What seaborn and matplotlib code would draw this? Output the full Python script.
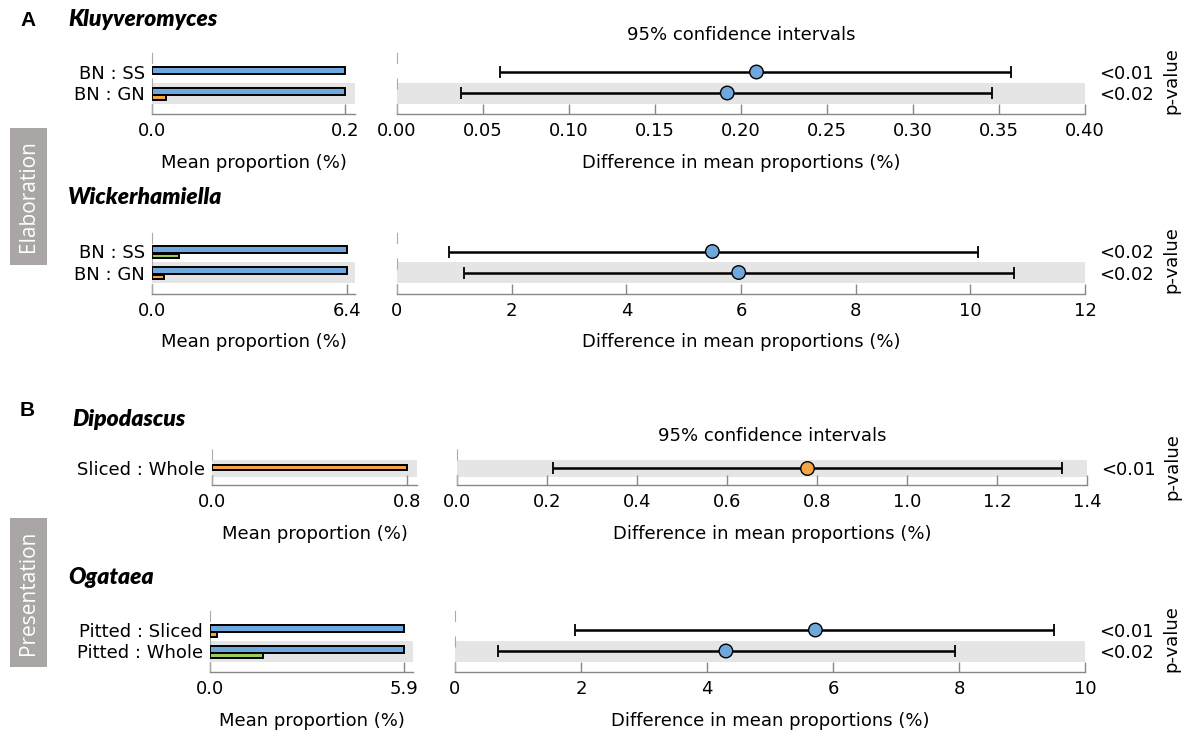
import numpy as np
import pandas as pd
import matplotlib
matplotlib.use("Agg")
import matplotlib.pyplot as plt
from matplotlib.patches import Rectangle
import seaborn as sns

sns.set_theme(style="white")
plt.rcParams["font.family"] = "sans-serif"
plt.rcParams["font.sans-serif"] = ["DejaVu Sans"]
plt.rcParams["mathtext.fontset"] = "dejavusans"
plt.rcParams["text.color"] = "black"
plt.rcParams["axes.labelcolor"] = "black"

FS = 13

BLUE = "#6FA8DC"
ORANGE = "#F6A545"
GREEN = "#9BCB5A"
BAND = "#E5E5E5"
SPINE = "#888888"
COLORS = {"BN": BLUE, "Pitted": BLUE, "SS": GREEN, "GN": ORANGE,
          "Sliced": ORANGE, "Whole": GREEN}

# ---------------- data ----------------
kluy_rows = ["BN : SS", "BN : GN"]
kluy_g1 = ["BN", "BN"]
kluy_g2 = ["SS", "GN"]
kluy_mean1 = [0.200, 0.200]
kluy_mean2 = [0.0, 0.0145]
kluy_diff = [0.209, 0.192]
kluy_lo = [0.060, 0.037]
kluy_hi = [0.357, 0.346]
kluy_p = ["<0.01", "<0.02"]

wick_rows = ["BN : SS", "BN : GN"]
wick_g1 = ["BN", "BN"]
wick_g2 = ["SS", "GN"]
wick_mean1 = [6.4, 6.4]
wick_mean2 = [0.89, 0.41]
wick_diff = [5.50, 5.96]
wick_lo = [0.90, 1.16]
wick_hi = [10.13, 10.76]
wick_p = ["<0.02", "<0.02"]

dipo_rows = ["Sliced : Whole"]
dipo_g1 = ["Sliced"]
dipo_g2 = ["Whole"]
dipo_mean1 = [0.80]
dipo_mean2 = [0.0]
dipo_diff = [0.778]
dipo_lo = [0.213]
dipo_hi = [1.345]
dipo_p = ["<0.01"]

ogat_rows = ["Pitted : Sliced", "Pitted : Whole"]
ogat_g1 = ["Pitted", "Pitted"]
ogat_g2 = ["Sliced", "Whole"]
ogat_mean1 = [5.9, 5.9]
ogat_mean2 = [0.22, 1.62]
ogat_diff = [5.72, 4.30]
ogat_lo = [1.91, 0.68]
ogat_hi = [9.51, 7.93]
ogat_p = ["<0.01", "<0.02"]

# ---------------- figure ----------------
W, H = 1189, 730
fig = plt.figure(figsize=(W / 100, H / 100), dpi=100)


def rect(x0, x1, top, bottom):
    return [x0 / W, 1 - bottom / H, (x1 - x0) / W, (bottom - top) / H]


def style_axis(ax, ylim):
    ax.set_ylim(*ylim)
    for s in ["top", "right"]:
        ax.spines[s].set_visible(False)
    ax.spines["bottom"].set_color(SPINE)
    ax.spines["bottom"].set_linewidth(1.0)
    ax.spines["left"].set_color("#AAAAAA")
    ax.spines["left"].set_linewidth(0.8)
    ax.spines["left"].set_linestyle((0, (9, 14)))
    ax.tick_params(axis="x", direction="in", length=7, width=1, color=SPINE,
                   labelsize=FS, pad=6, labelcolor="black", bottom=True)
    ax.set_facecolor("none")


def panel(rows, g1, g2, m1, m2, diff, lo, hi, pvals,
          bar_x, ci_x, row0, unit, bar_max, bar_ticks, bar_labels,
          ci_lim, ci_ticks, ci_labels, band_rows, b1, b2, title=False):
    n = len(rows)
    top = row0 - 1.2 * unit
    bottom = row0 + (n - 1) * unit + 1.0 * unit
    ylim = ((bottom - row0) / unit, (top - row0) / unit)

    # ---- mean proportion bars ----
    axb = fig.add_axes(rect(bar_x[0], bar_x[1], top, bottom))
    df = pd.DataFrame({"row": list(rows) * 2,
                       "value": list(m1) + list(m2),
                       "role": ["first"] * n + ["second"] * n})
    sns.barplot(data=df, x="value", y="row", hue="role", order=rows,
                hue_order=["first", "second"], orient="h", dodge=True,
                width=0.6, palette=[BLUE, ORANGE], saturation=1,
                edgecolor="black", linewidth=1.4, legend=False,
                errorbar=None, ax=axb)
    for cont, groups, (off, hgt) in zip(axb.containers, [g1, g2], [b1, b2]):
        for p in cont.patches:
            i = int(round(p.get_y() + p.get_height() / 2))
            p.set_facecolor(COLORS[groups[i]])
            p.set_y(i + off / unit)
            p.set_height(hgt / unit)
            p.set_zorder(3)
            if p.get_width() == 0:
                p.set_visible(False)
    for r in band_rows:
        axb.axhspan(r - 0.5, r + 0.5, color=BAND, lw=0, zorder=0)
    axb.set_xlim(0, bar_max)
    style_axis(axb, ylim)
    axb.set_xticks(bar_ticks)
    axb.set_xticklabels(bar_labels)
    axb.set_ylabel("")
    axb.set_xlabel("Mean proportion (%)", fontsize=FS, labelpad=9.5)
    axb.tick_params(axis="y", length=0, pad=5, labelsize=FS, labelcolor="black")

    # ---- confidence intervals ----
    axc = fig.add_axes(rect(ci_x[0], ci_x[1], top, bottom))
    y = np.arange(n)
    d = np.array(diff)
    axc.errorbar(d, y, xerr=[d - np.array(lo), np.array(hi) - d], fmt="none",
                 ecolor="black", elinewidth=1.8, capsize=4.5, capthick=1.3,
                 zorder=3)
    pgroups = [g1[i] if diff[i] > 0 else g2[i] for i in range(n)]
    sns.scatterplot(x=d, y=y, hue=pgroups, palette=COLORS, s=95,
                    edgecolor="black", linewidth=1, legend=False, ax=axc,
                    zorder=4)
    for r in band_rows:
        axc.axhspan(r - 0.5, r + 0.5, color=BAND, lw=0, zorder=0)
    axc.set_xlim(*ci_lim)
    style_axis(axc, ylim)
    axc.set_xticks(ci_ticks)
    axc.set_xticklabels(ci_labels)
    axc.set_yticks([])
    axc.set_xlabel("Difference in mean proportions (%)", fontsize=FS,
                   labelpad=9.5)
    if title:
        axc.set_title("95% confidence intervals", fontsize=FS, pad=5)

    # ---- p-values ----
    axp = axc.twinx()
    axp.set_ylim(*ylim)
    axp.set_yticks(y)
    axp.set_yticklabels(pvals)
    axp.tick_params(axis="y", length=0, pad=10, labelsize=FS,
                    labelcolor="black")
    for s in axp.spines.values():
        s.set_visible(False)
    axp.set_ylabel("p-value", fontsize=FS, labelpad=6)


panel(kluy_rows, kluy_g1, kluy_g2, kluy_mean1, kluy_mean2, kluy_diff, kluy_lo,
      kluy_hi, kluy_p, (152, 355), (397, 1085), 72, 21, 0.2104,
      [0, 0.2], ["0.0", "0.2"], (0, 0.40), np.arange(0, 0.401, 0.05),
      ["%.2f" % v for v in np.arange(0, 0.401, 0.05)], [1],
      (-5.5, 7.0), (2.0, 4.6), title=True)

panel(wick_rows, wick_g1, wick_g2, wick_mean1, wick_mean2, wick_diff, wick_lo,
      wick_hi, wick_p, (152, 355), (397, 1085), 251.5, 21, 6.66,
      [0, 6.4], ["0.0", "6.4"], (0, 12), np.arange(0, 13, 2),
      [str(v) for v in range(0, 13, 2)], [1],
      (-5.5, 7.0), (2.0, 4.6))

panel(dipo_rows, dipo_g1, dipo_g2, dipo_mean1, dipo_mean2, dipo_diff, dipo_lo,
      dipo_hi, dipo_p, (212, 417), (457, 1087), 468, 17, 0.841,
      [0, 0.8], ["0.0", "0.8"], (0, 1.4), np.arange(0, 1.41, 0.2),
      ["%.1f" % v for v in np.arange(0, 1.41, 0.2)], [0],
      (-3.0, 5.0), (2.0, 4.6), title=True)

panel(ogat_rows, ogat_g1, ogat_g2, ogat_mean1, ogat_mean2, ogat_diff, ogat_lo,
      ogat_hi, ogat_p, (210, 413), (455, 1085), 630, 21, 6.17,
      [0, 5.9], ["0.0", "5.9"], (0, 10), np.arange(0, 11, 2),
      [str(v) for v in range(0, 11, 2)], [1],
      (-5.5, 7.0), (2.0, 4.6))

# ---------------- annotations ----------------
def ftext(x, y, s, **kw):
    fig.text(x / W, 1 - y / H, s, **kw)


ftext(20, 21, "A", fontsize=15, fontweight="bold", va="center", ha="left",
      color="black", family=["Liberation Sans", "DejaVu Sans"])
ftext(20, 411, "B", fontsize=15, fontweight="bold", va="center", ha="left",
      color="black", family=["Liberation Sans", "DejaVu Sans"])
for x, y, s in [(68, 20, "Kluyveromyces"), (68, 197, "Wickerhamiella"),
                (72, 419, "Dipodascus"), (68, 578, "Ogataea")]:
    ftext(x, y, s, fontsize=16.5, fontweight="heavy", style="italic",
          color="black", va="center", ha="left",
          family=["Lato", "DejaVu Sans"])

for (y0, y1, s) in [(128, 265, "Elaboration"), (518, 667, "Presentation")]:
    fig.add_artist(Rectangle((10 / W, 1 - y1 / H), 37 / W, (y1 - y0) / H,
                             transform=fig.transFigure, facecolor="#ABA6A6",
                             edgecolor="none"))
    ftext(28.5, (y0 + y1) / 2, s, rotation=90, color="white", fontsize=15,
          va="center", ha="center", family=["Open Sans", "DejaVu Sans"])

fig.savefig("out.png", dpi=100)
